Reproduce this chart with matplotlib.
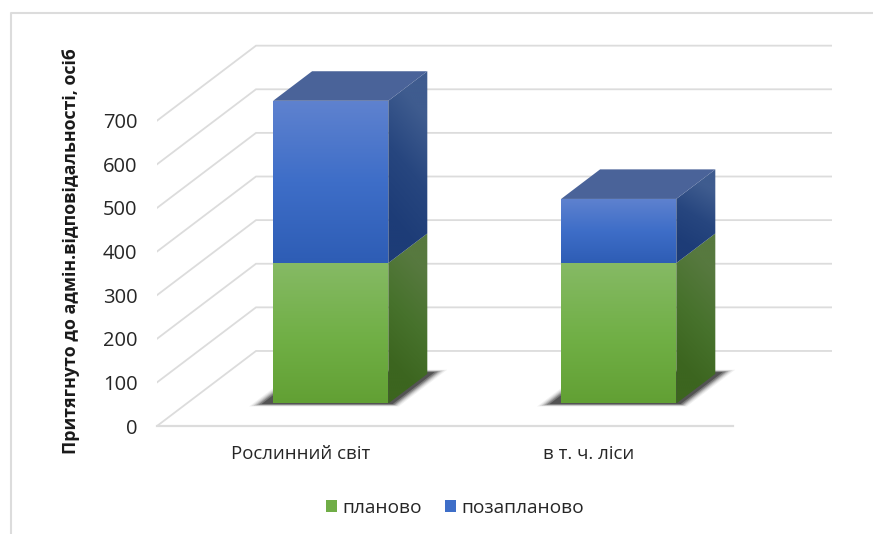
import numpy as np
import matplotlib
matplotlib.use('Agg')
import matplotlib.pyplot as plt
from matplotlib.lines import Line2D
from matplotlib.patches import Patch, Polygon

plt.rcParams['font.family'] = ['Open Sans', 'DejaVu Sans']

categories = ['Рослинний світ', 'в т. ч. ліси']
planned = [322, 322]
unplanned = [372, 147]
series_names = ['планово', 'позапланово']
yticks = [0, 100, 200, 300, 400, 500, 600, 700]
ylabel = 'Притягнуто до адмін.відповідальності, осіб'

# fake 3d: one unit of depth moves this far in data units
DX = 99 / 288
DY = 75 / 0.436
BAR_W = 0.4
D0 = 0.3 ; D1 = 0.694
GRID = '#DCDCDC'

def rgb(c):
    return np.array(matplotlib.colors.to_rgb(c))

def pos(x, v, d):
    return (x + d * DX, v + d * DY)

def fill(ax, pts, stops, skew=0.0, z=3):
    # polygon filled with a vertical (or skewed) gradient, stops are (t, colour)
    poly = Polygon(pts, closed=True, fc='none', ec='none', zorder=z)
    ax.add_patch(poly)
    xs = [p[0] for p in pts] ; ys = [p[1] for p in pts]
    u, w = np.meshgrid(np.linspace(0, 1, 60), np.linspace(0, 1, 200))
    t = np.clip((w + skew * u) / (1 + skew), 0, 1)
    ts = [s[0] for s in stops]
    img = np.dstack([np.interp(t, ts, [rgb(s[1])[i] for s in stops]) for i in range(3)])
    im = ax.imshow(img, extent=(min(xs), max(xs), max(ys), min(ys)), origin='upper',
                   aspect='auto', zorder=z, interpolation='bilinear')
    # row 0 is the top of the face
    im.set_extent((min(xs), max(xs), min(ys), max(ys)))
    im.set_clip_path(poly)

def box(ax, x, v0, v1, front, side):
    l = x - BAR_W / 2 ; r = x + BAR_W / 2
    fill(ax, [pos(l, v0, D0), pos(r, v0, D0), pos(r, v1, D0), pos(l, v1, D0)], front, z=5)
    fill(ax, [pos(r, v0, D0), pos(r, v0, D1), pos(r, v1, D1), pos(r, v1, D0)], side, skew=-0.25, z=4)

fig = plt.figure(figsize=(8.73, 5.34), dpi=100)
ax = fig.add_axes([157 / 873, (534 - 426) / 534, 675 / 873, 386 / 534])
ax.set_xlim(-0.5, 1.5 + DX)
ax.set_ylim(0, 885)
ax.autoscale(False)

# walls and floor
for v in yticks:
    x0, y0 = pos(-0.5, v, 0) ; x1, y1 = pos(-0.5, v, 1) ; x2, y2 = pos(1.5, v, 1)
    ax.plot([x0, x1, x2], [y0, y1, y2], color=GRID, lw=1.3, zorder=1, solid_joinstyle='miter')
ax.plot([-0.5, 1.5], [0, 0], color=GRID, lw=1.6, zorder=1, clip_on=False)

green_front = [(0, '#86BA65'), (0.55, '#70AF45'), (1, '#62A034')]
green_side = [(0, '#57793F'), (0.5, '#47722C'), (1, '#3C651F')]
blue_front = [(0, '#5F82CF'), (0.5, '#3E6EC8'), (1, '#2E5DB5')]
blue_side = [(0, '#3F5C8F'), (0.5, '#27467F'), (1, '#1D3C77')]

for i in range(len(categories)):
    # soft shadow on the floor
    l = i - 0.25 ; r = i + 0.23
    for grow, a in [(0.02, 0.06), (0.014, 0.09), (0.008, 0.14), (0.002, 0.2), (-0.004, 0.3), (-0.012, 0.45)]:
        ax.add_patch(Polygon([pos(l - grow, 0, 0.28 - grow), pos(r + grow, 0, 0.28 - grow),
                              pos(r + grow, 0, 0.73 + grow), pos(l - grow, 0, 0.73 + grow)],
                             closed=True, fc='#222222', ec='none', alpha=a, zorder=2))
    box(ax, i, 0, planned[i], green_front, green_side)
    total = planned[i] + unplanned[i]
    box(ax, i, planned[i], total, blue_front, blue_side)
    l = i - BAR_W / 2 ; r = i + BAR_W / 2
    ax.add_patch(Polygon([pos(l, total, D0), pos(r, total, D0), pos(r, total, D1), pos(l, total, D1)],
                         closed=True, fc='#4A6399', ec='none', zorder=6))

for s in ax.spines.values():
    s.set_visible(False)
ax.patch.set_visible(False)
ax.set_xticks(range(len(categories)))
ax.set_xticklabels(categories, fontsize=13.4, color='#262626')
ax.set_yticks(yticks)
ax.tick_params(axis='both', length=0, labelcolor='#262626')
ax.tick_params(axis='x', pad=14)
ax.tick_params(axis='y', pad=14, labelsize=14.5)
ax.set_ylabel(ylabel, fontsize=12.8, fontweight='bold', color='#1A1A1A')
ax.yaxis.set_label_coords((80 - 157) / 675, (426 - 251) / 386)

handles = [Patch(fc='#70AD47', label=series_names[0]), Patch(fc='#3E6EC8', label=series_names[1])]
fig.legend(handles=handles, ncol=2, frameon=False, fontsize=13.8, loc='center',
           bbox_to_anchor=(455 / 873, 1 - 508 / 534), handlelength=0.57, handleheight=0.57,
           handletextpad=0.3, columnspacing=1.2, labelcolor='#262626')

# chart area border, only left and top show in the screenshot
fig.add_artist(Line2D([11 / 873, 11 / 873, 1], [0, 1 - 13 / 534, 1 - 13 / 534], color=GRID, lw=1.5))

fig.savefig('out.png', dpi=100)
